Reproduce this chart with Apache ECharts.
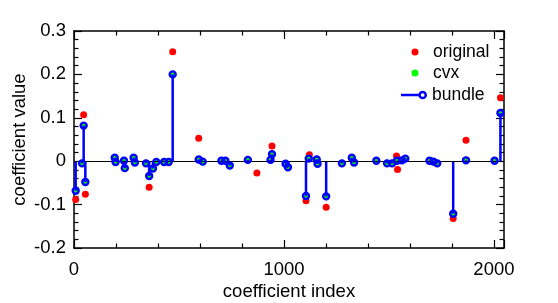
<!DOCTYPE html>
<html>
<head>
<meta charset="utf-8">
<script src="https://cdn.jsdelivr.net/npm/echarts@6/dist/echarts.min.js"></script>
<style>
html,body{margin:0;padding:0;background:#fff;}
#chart{width:558px;height:303px;}
</style>
</head>
<body>
<div id="chart"></div>
<script>
// x ticks / y ticks
var xTicks = [0, 1000, 2000];
var yTicks = [-0.2, -0.1, 0, 0.1, 0.2, 0.3];

// bundle (stem) coefficients: index and value
var bundleIdx = [8, 38, 46, 54, 194, 198, 238, 242, 284, 290, 343, 358, 376, 392, 429, 451, 470,
  594, 613, 702, 721, 742, 828, 936, 943, 1008, 1019, 1105, 1118, 1156, 1160, 1201, 1276, 1323,
  1334, 1440, 1491, 1515, 1538, 1562, 1578, 1693, 1712, 1730, 1806, 1867, 2003, 2031];
var bundleVal = [-0.068, -0.005, 0.082, -0.048, 0.008, -0.002, 0.001, -0.016, 0.008, -0.003, -0.005, -0.034, -0.017, -0.002, -0.002, -0.002, 0.200,
  0.004, -0.001, 0.001, 0.001, -0.010, 0.003, 0.003, 0.016, -0.006, -0.014, -0.080, 0.006, 0.004, -0.006, -0.081, -0.005, 0.008,
  -0.003, 0.001, -0.005, -0.005, 0.001, 0.002, 0.006, 0.001, -0.001, -0.005, -0.121, 0.002, 0.001, 0.111];
// cvx solution (coincides with bundle in the picture)
var cvxVal = [-0.068, -0.005, 0.082, -0.048, 0.008, -0.002, 0.001, -0.016, 0.008, -0.003, -0.005, -0.034, -0.017, -0.002, -0.002, -0.002, 0.200,
  0.004, -0.001, 0.001, 0.001, -0.010, 0.003, 0.003, 0.016, -0.006, -0.014, -0.080, 0.006, 0.004, -0.006, -0.081, -0.005, 0.008,
  -0.003, 0.001, -0.005, -0.005, 0.001, 0.002, 0.006, 0.001, -0.001, -0.005, -0.121, 0.002, 0.001, 0.111];
// original coefficients (visible ones)
var origIdx = [8, 46, 54, 358, 470, 594, 871, 943, 1105, 1121, 1201, 1536, 1541, 1806, 1867, 2031];
var origVal = [-0.088, 0.107, -0.076, -0.060, 0.252, 0.053, -0.027, 0.035, -0.091, 0.015, -0.106, 0.012, -0.019, -0.132, 0.048, 0.146];

var BLUE = '#0000ff', RED = '#ff0000', GREEN = '#00ff00';
var FONT = "'Liberation Sans', Arial, Helvetica, sans-serif";

function pairs(xs, ys){ return xs.map(function(x,i){ return [x, ys[i]]; }); }

var chart = echarts.init(document.getElementById('chart'), null, {renderer:'canvas'});

var axisCommon = {
  axisLine:{show:true, onZero:false, lineStyle:{color:'#000', width:1.5}},
  axisTick:{show:true, inside:true, length:8, lineStyle:{color:'#000', width:1.2}},
  minorTick:{show:true, splitNumber:5, length:4.5, lineStyle:{color:'#000', width:1.2}},
  splitLine:{show:false}
};

var bundleIcon = 'path://M0,3 L18,3 L18,5.4 L0,5.4 Z M21,0 A4.2,4.2 0 1 1 21,8.4 A4.2,4.2 0 1 1 21,0 Z M21,2.4 A1.8,1.8 0 1 0 21,6 A1.8,1.8 0 1 0 21,2.4 Z';

var option = {
  animation:false,
  backgroundColor:'#fff',
  textStyle:{fontFamily:FONT},
  grid:{left:74, right:54, top:31, bottom:55, containLabel:false, outerBoundsMode:'none'},
  xAxis:[
    Object.assign({}, axisCommon, {
      type:'value', min:0, max:2048, interval:1000, position:'bottom',
      name:'coefficient index', nameLocation:'middle', nameGap:34, nameMoveOverlap:false,
      nameTextStyle:{fontSize:18.5, color:'#000', fontFamily:FONT},
      axisLabel:{show:true, margin:12, fontSize:18.5, color:'#000', fontFamily:FONT,
        formatter:function(v){ return xTicks.indexOf(v) >= 0 ? String(v) : ''; }}
    }),
    Object.assign({}, axisCommon, {
      type:'value', min:0, max:2048, interval:1000, position:'top',
      axisLabel:{show:false}
    })
  ],
  yAxis:[
    Object.assign({}, axisCommon, {
      type:'value', min:-0.2, max:0.3, interval:0.1, position:'left',
      name:'coefficient value', nameLocation:'middle', nameGap:45, nameRotate:90, nameMoveOverlap:false,
      nameTextStyle:{fontSize:18.5, color:'#000', fontFamily:FONT},
      axisLabel:{show:true, margin:8, fontSize:18.5, color:'#000', fontFamily:FONT,
        formatter:function(v){
          var r = Math.round(v*10)/10;
          for (var i=0;i<yTicks.length;i++){ if (Math.abs(yTicks[i]-r)<1e-9 && Math.abs(v-r)<1e-6) return String(yTicks[i]); }
          return '';
        }}
    }),
    Object.assign({}, axisCommon, {
      type:'value', min:-0.2, max:0.3, interval:0.1, position:'right',
      axisLabel:{show:false}
    })
  ],
  legend:[
    {
      orient:'vertical', left:411.5, top:42, padding:0, itemGap:1,
      itemWidth:26, itemHeight:7, icon:'circle',
      textStyle:{fontSize:17.5, color:'#000', fontFamily:FONT, lineHeight:20},
      data:['original', 'cvx'],
      selectedMode:false
    },
    {
      orient:'vertical', left:401, top:85, padding:0,
      itemWidth:26, itemHeight:8.7,
      textStyle:{fontSize:17.5, color:'#000', fontFamily:FONT, lineHeight:20},
      data:[{name:'bundle', icon:bundleIcon, itemStyle:{color:BLUE, borderWidth:0, opacity:1}}],
      selectedMode:false
    }
  ],
  series:[
    {
      name:'original', type:'scatter', z:2,
      symbol:'circle', symbolSize:7,
      itemStyle:{color:RED, opacity:1},
      data:pairs(origIdx, origVal),
      markLine:{
        silent:true, symbol:'none', animation:false,
        label:{show:false},
        lineStyle:{color:'#000', width:1.2, type:'solid'},
        data:[{yAxis:0}]
      }
    },
    {
      name:'cvx', type:'scatter', z:3,
      symbol:'circle', symbolSize:7,
      itemStyle:{color:GREEN, opacity:1},
      data:pairs(bundleIdx, cvxVal)
    },
    {
      name:'stems', type:'custom', z:4,
      renderItem:function(params, api){
        var x = api.value(0), y = api.value(1);
        var p0 = api.coord([x, 0]), p1 = api.coord([x, y]);
        return {type:'line', shape:{x1:p0[0], y1:p0[1], x2:p1[0], y2:p1[1]},
          style:{stroke:BLUE, lineWidth:2.5}};
      },
      encode:{x:0, y:1},
      data:pairs(bundleIdx, bundleVal)
    },
    {
      name:'bundle', type:'scatter', z:5,
      symbol:'circle', symbolSize:6,
      itemStyle:{color:'rgba(255,255,255,0)', borderColor:BLUE, borderWidth:2.4, opacity:1},
      data:pairs(bundleIdx, bundleVal)
    }
  ]
};
chart.setOption(option);
</script>
</body>
</html>
